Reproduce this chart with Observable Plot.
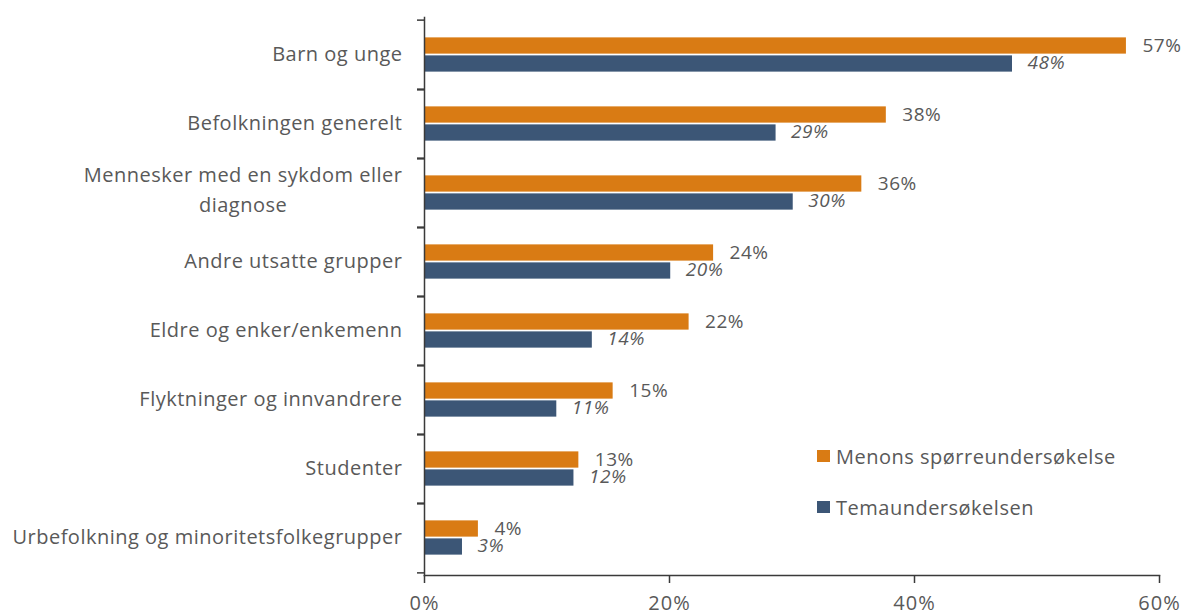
<!DOCTYPE html>
<html><head><meta charset="utf-8">
<script src="https://cdn.jsdelivr.net/npm/d3@7"></script>
<script src="https://cdn.jsdelivr.net/npm/@observablehq/plot@0.6"></script>
<style>
body{margin:0;background:#fff;}
#wrap{position:relative;width:1185px;height:614px;font-family:"Open Sans",sans-serif;}
#wrap svg{overflow:visible;letter-spacing:0.5px;}
#wrap svg g[aria-label="x-axis tick label"] text{letter-spacing:1px;}
.legend{position:absolute;left:817px;top:441px;color:#595959;font-size:20px;letter-spacing:0.5px;}
.item{display:flex;align-items:center;height:30px;margin-bottom:21px;white-space:nowrap;}
.sw{width:13px;height:12px;margin-right:6px;flex:none;}
</style></head><body><div id="wrap"></div>
<script>
const categories = [
  "Barn og unge",
  "Befolkningen generelt",
  "Mennesker med en sykdom eller\ndiagnose",
  "Andre utsatte grupper",
  "Eldre og enker/enkemenn",
  "Flyktninger og innvandrere",
  "Studenter",
  "Urbefolkning og minoritetsfolkegrupper"
];
const menon = [57.3, 37.7, 35.7, 23.6, 21.6, 15.4, 12.6, 4.4];
const tema  = [48.0, 28.7, 30.1, 20.1, 13.7, 10.8, 12.2, 3.1];
const seriesNames = ["Menons spørreundersøkelse", "Temaundersøkelsen"];
const seriesColors = ["#D97B14", "#3C5676"];
const xTicks = [0, 20, 40, 60];

const data = categories.map((c, i) => ({category: c, menon: menon[i], tema: tema[i]}));

const W = 1185, H = 614, mT = 17, mB = 39, mL = 424, mR = 26;
const step = (H - mT - mB) / categories.length;
const barH = 17;
const gray = "#595959";
const axisCol = "#3a3a3a";
const pct = v => Math.round(v) + "%";

const chart = Plot.plot({
  width: W, height: H,
  marginTop: mT, marginBottom: mB, marginLeft: mL, marginRight: mR,
  style: {fontFamily: '"Open Sans", sans-serif', color: gray, background: "transparent"},
  x: {domain: [0, 60]},
  y: {domain: categories, paddingInner: 0, paddingOuter: 0},
  marks: [
    Plot.barX(data, {x: "menon", y: "category", fill: seriesColors[0],
      insetTop: step / 2 - barH - 0.5, insetBottom: step / 2 + 0.5}),
    Plot.barX(data, {x: "tema", y: "category", fill: seriesColors[1],
      insetTop: step / 2 + 0.5, insetBottom: step / 2 - barH - 0.5}),
    Plot.text(data, {x: "menon", y: "category", text: d => pct(d.menon),
      textAnchor: "start", dx: 16, dy: -9, fill: gray, fontSize: 19}),
    Plot.text(data, {x: "tema", y: "category", text: d => pct(d.tema),
      textAnchor: "start", dx: 15, dy: 8, fill: gray, fontSize: 19, fontStyle: "italic"}),
    Plot.frame({anchor: "left", stroke: axisCol, strokeWidth: 1.5}),
    Plot.frame({anchor: "bottom", stroke: axisCol, strokeWidth: 1.5}),
    Plot.axisY({tickSize: 0, tickPadding: 22, label: null, fontSize: 20, lineHeight: 1.5,
      fill: gray, dy: -4}),
    Plot.axisY({tickSize: 7, text: null, label: null, dy: step / 2, stroke: axisCol, strokeWidth: 1.5}),
    Plot.axisY({tickSize: 7, text: null, label: null, dy: -step / 2, stroke: axisCol, strokeWidth: 1.5}),
    Plot.axisX({ticks: xTicks, tickFormat: d => d + "%", tickSize: 8, tickPadding: 12, label: null,
      fontSize: 20, fill: gray, stroke: axisCol, strokeWidth: 1.5})
  ]
});

const wrap = document.getElementById("wrap");
wrap.append(chart);

// center multi-line category labels (as in the original)
chart.querySelectorAll("text").forEach(t => {
  const spans = t.querySelectorAll("tspan");
  if (spans.length > 1) {
    let w = 0;
    spans.forEach(s => { w = Math.max(w, s.getComputedTextLength()); });
    t.setAttribute("text-anchor", "middle");
    const tr = t.getAttribute("transform") || "";
    t.setAttribute("transform", tr + ` translate(${-w / 2},-2)`);
  }
});

const legend = document.createElement("div");
legend.className = "legend";
seriesNames.forEach((n, i) => {
  const it = document.createElement("div");
  it.className = "item";
  const sw = document.createElement("span");
  sw.className = "sw";
  sw.style.background = seriesColors[i];
  const tx = document.createElement("span");
  tx.textContent = n;
  it.append(sw, tx);
  legend.append(it);
});
wrap.append(legend);
</script>
</body></html>
